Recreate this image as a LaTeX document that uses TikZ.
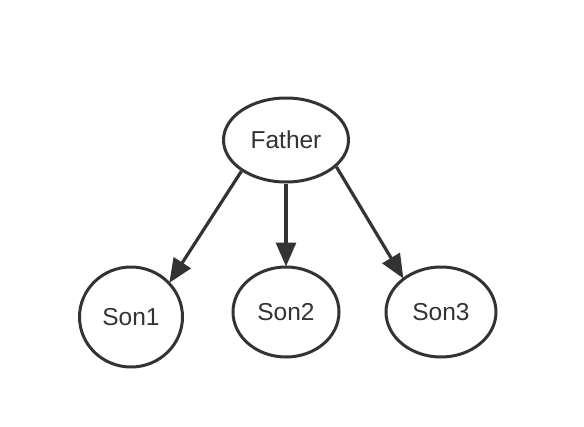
\documentclass[tikz,border=0pt]{standalone}
\usepackage{fontspec}
\setmainfont{Liberation Sans}
\usetikzlibrary{shapes.geometric,arrows.meta}
\definecolor{ink}{HTML}{333333}
\begin{document}
\begin{tikzpicture}[x=1pt,y=-1pt,
  nodebox/.style={draw=ink,line width=3pt,ellipse,inner sep=0pt,fill=white,
    font=\fontsize{24.5}{28}\selectfont,text=ink},
  link/.style={draw=ink,line width=3.2pt,-{Triangle[length=24pt,width=20pt]},shorten >=-1pt}]
\useasboundingbox (0,0) rectangle (584,426);
\node[nodebox,minimum width=125pt,minimum height=84pt] (father) at (286,140) {Father};
\node[nodebox,minimum width=103pt,minimum height=100pt] (son1) at (131,317) {Son1};
\node[nodebox,minimum width=106pt,minimum height=90pt] (son2) at (286,312) {Son2};
\node[nodebox,minimum width=110pt,minimum height=90pt] (son3) at (441,312) {Son3};
\draw[link] (father.215) -- (son1.42);
\draw[link] (father) -- (son2);
\draw[link] (father.332) -- (son3.138);
\end{tikzpicture}
\end{document}
